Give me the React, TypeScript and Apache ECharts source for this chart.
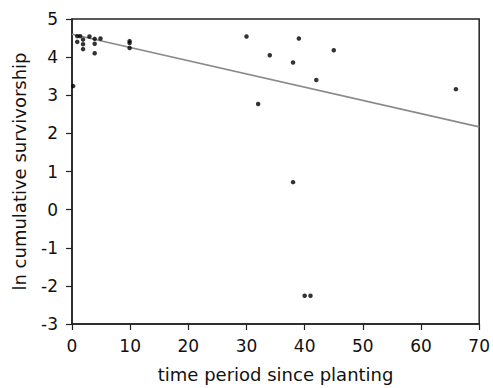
import React, { useEffect, useRef } from "react";
import * as echarts from "echarts";

const xValues = [0.9, 1.4, 0.9, 1.9, 1.9, 1.9, 3.0, 3.9, 3.9, 3.9, 4.9, 9.9, 9.9, 9.9, 0.2, 30, 34, 32, 39, 38, 45, 42, 66, 38, 40, 41];
const yValues = [4.55, 4.55, 4.4, 4.46, 4.34, 4.21, 4.54, 4.48, 4.35, 4.1, 4.49, 4.42, 4.37, 4.24, 3.24, 4.54, 4.05, 2.77, 4.49, 3.86, 4.18, 3.4, 3.16, 0.72, -2.26, -2.26];
const fitLine = [
  [0, 4.6],
  [70, 2.17],
];
const xTicks = [0, 10, 20, 30, 40, 50, 60, 70];
const yTicks = [-3, -2, -1, 0, 1, 2, 3, 4, 5];

const FONT = "DejaVu Sans";

export default function App() {
  const ref = useRef<HTMLDivElement>(null);
  useEffect(() => {
    const chart = echarts.init(ref.current!, null, { renderer: "svg" });
    const axisCommon = {
      axisLine: { show: true, onZero: false, lineStyle: { color: "#222", width: 1.5 } },
      axisTick: { show: true, inside: false, length: 6, lineStyle: { color: "#222", width: 1.2 } },
      splitLine: { show: false },
      nameLocation: "middle" as const,
      nameTextStyle: { fontFamily: FONT, fontSize: 18, color: "#111" },
      axisLabel: { fontFamily: FONT, fontSize: 17, color: "#111", margin: 13 },
    };
    chart.setOption({
      animation: false,
      backgroundColor: "#fff",
      grid: { left: 72, right: 12, top: 19, bottom: 62, show: true, borderColor: "#222", borderWidth: 1.5 },
      xAxis: {
        ...axisCommon,
        type: "value",
        min: xTicks[0],
        max: xTicks[xTicks.length - 1],
        interval: 10,
        name: "time period since planting",
        nameGap: 41,
      },
      yAxis: {
        ...axisCommon,
        type: "value",
        min: yTicks[0],
        max: yTicks[yTicks.length - 1],
        interval: 1,
        name: "ln cumulative survivorship",
        nameGap: 44,
        axisLabel: { ...axisCommon.axisLabel, margin: 14 },
      },
      series: [
        {
          type: "line",
          data: fitLine,
          symbol: "none",
          lineStyle: { color: "#8a8a8a", width: 1.6 },
          z: 1,
        },
        {
          type: "scatter",
          data: xValues.map((x, i) => [x, yValues[i]]),
          symbolSize: 4.5,
          itemStyle: { color: "#000" },
          z: 2,
        },
      ],
    });
    return () => chart.dispose();
  }, []);
  return <div ref={ref} style={{ width: 493, height: 388, position: "absolute", left: 0, top: 0 }} />;
}
